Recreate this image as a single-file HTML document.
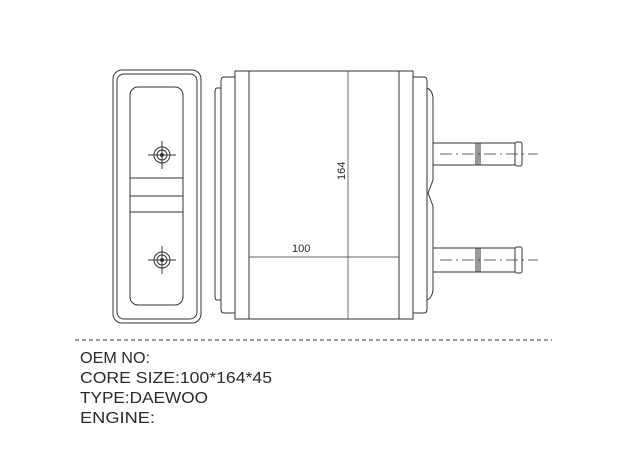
<!DOCTYPE html>
<html><head><style>
body{margin:0;background:#fff;}
svg{display:block}
text{font-family:"Liberation Sans",sans-serif;fill:#2a2a2a}
</style></head><body>
<svg width="621" height="466" viewBox="0 0 621 466" xmlns="http://www.w3.org/2000/svg">
<g fill="none" stroke="#333" stroke-width="1">
<rect x="113" y="70" width="88" height="253" rx="9"/>
<rect x="117" y="74" width="80" height="245" rx="7"/>
<rect x="130" y="87" width="53" height="218" rx="8"/>
<line x1="130" y1="178" x2="183" y2="178"/>
<line x1="130" y1="196" x2="183" y2="196"/>
<line x1="130" y1="212" x2="183" y2="212"/>
<circle cx="162" cy="155" r="8"/><circle cx="162" cy="155" r="5"/><circle cx="162" cy="155" r="1.5" fill="#333"/>
<line x1="148" y1="155" x2="176" y2="155"/><line x1="162" y1="141" x2="162" y2="169"/>
<circle cx="162" cy="260" r="8"/><circle cx="162" cy="260" r="5"/><circle cx="162" cy="260" r="1.5" fill="#333"/>
<line x1="148" y1="260" x2="176" y2="260"/><line x1="162" y1="246" x2="162" y2="274"/>
<rect x="235" y="71" width="178" height="248"/>
<rect x="235" y="71" width="14" height="248"/>
<rect x="399" y="71" width="14" height="248"/>
<path d="M235 77 H224 Q221 77 221 81 V309 Q221 313 224 313 H235"/>
<path d="M221 88 H217 Q215 88 215 92 V296 Q215 300 217 300 H221"/>
<path d="M413 77 H424 Q427 77 427 81 V309 Q427 313 424 313 H413"/>
<path d="M427 88 Q432 90 433 97 V180 L428 193 L433 206 V290 Q432 298 427 300"/>
<line x1="348" y1="71" x2="348" y2="319" stroke-width="0.7"/>
<line x1="249" y1="257" x2="399" y2="257" stroke-width="0.7"/>
<path d="M433 143 H515 V165 H433"/>
<rect x="515" y="142" width="7" height="24" rx="2"/>
<line x1="476" y1="143" x2="476" y2="165"/><line x1="478" y1="143" x2="478" y2="165"/><line x1="480" y1="143" x2="480" y2="165"/>
<path d="M433 248 H515 V272 H433"/>
<rect x="515" y="247" width="7" height="26" rx="2"/>
<line x1="476" y1="248" x2="476" y2="272"/><line x1="478" y1="248" x2="478" y2="272"/><line x1="480" y1="248" x2="480" y2="272"/>
<line x1="440" y1="154" x2="538" y2="154" stroke-dasharray="12,4,2,4" stroke-width="0.8"/>
<line x1="440" y1="260" x2="538" y2="260" stroke-dasharray="12,4,2,4" stroke-width="0.8"/>
<line x1="75" y1="340" x2="552" y2="340" stroke-dasharray="4,3"/>
</g>
<text x="292" y="252" font-size="11">100</text>
<text x="0" y="0" font-size="11" transform="translate(345,180) rotate(-90)">164</text>
<text x="80" y="363" font-size="15.5" textLength="70" lengthAdjust="spacingAndGlyphs">OEM NO:</text>
<text x="80" y="383" font-size="15.5" textLength="192" lengthAdjust="spacingAndGlyphs">CORE SIZE:100*164*45</text>
<text x="80" y="403" font-size="15.5" textLength="128" lengthAdjust="spacingAndGlyphs">TYPE:DAEWOO</text>
<text x="80" y="423" font-size="15.5" textLength="75" lengthAdjust="spacingAndGlyphs">ENGINE:</text>
</svg>
</body></html>
